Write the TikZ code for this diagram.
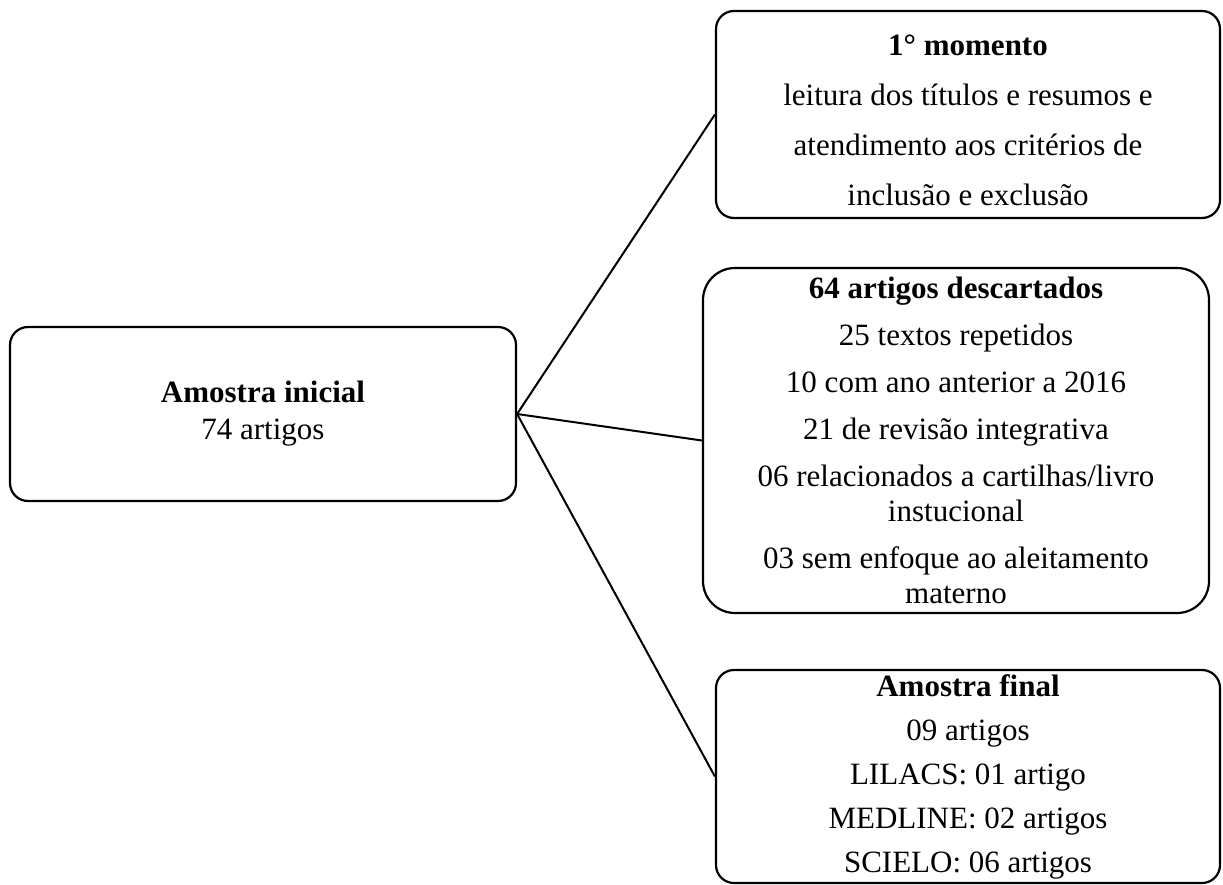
\documentclass[tikz,border=0pt]{standalone}
\usepackage{fontspec}
\setmainfont{Liberation Serif}
\begin{document}
\begin{tikzpicture}[x=1pt,y=-1pt,
  box/.style={draw, line width=2.2pt, rounded corners=18pt, align=center, inner sep=0pt},
  link/.style={line width=2pt}]
\useasboundingbox (0,0) rectangle (1223,885);
\node[box, minimum width=506pt, minimum height=174pt, font=\fontsize{31}{37}\selectfont] (L) at (263,414)
  {\textbf{Amostra inicial}\\74 artigos};
\node[box, minimum width=504pt, minimum height=207pt, font=\fontsize{31}{50}\selectfont] (T) at (968,114.5)
  {\rule{0pt}{32pt}\textbf{1° momento}\\leitura dos títulos e resumos e\\atendimento aos critérios de\\inclusão e exclusão};
\node[box, rounded corners=32pt, minimum width=506pt, minimum height=345pt, font=\fontsize{31}{35}\selectfont] (M) at (956,440.5)
  {\textbf{64 artigos descartados}\\[12pt]25 textos repetidos\\[12pt]10 com ano anterior a 2016\\[12pt]21 de revisão integrativa\\[12pt]06 relacionados a cartilhas/livro\\instucional\\[12pt]03 sem enfoque ao aleitamento\\materno};
\node[box, minimum width=504pt, minimum height=213pt, font=\fontsize{31}{44}\selectfont] (B) at (968,776.5)
  {\textbf{Amostra final}\\09 artigos\\LILACS: 01 artigo\\MEDLINE: 02 artigos\\SCIELO: 06 artigos};
\draw[link] (L.east) -- (T.west);
\draw[link] (L.east) -- (M.west);
\draw[link] (L.east) -- (B.west);
\end{tikzpicture}
\end{document}
